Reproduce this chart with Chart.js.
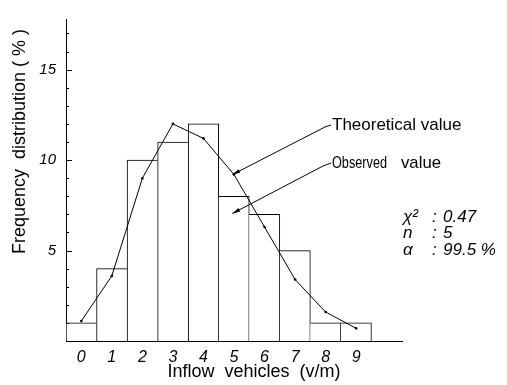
<!DOCTYPE html>
<html>
<head>
<meta charset="utf-8">
<script src="https://cdn.jsdelivr.net/npm/chart.js@4.4.0/dist/chart.umd.min.js"></script>
<style>
  html, body { margin: 0; padding: 0; background: #fff; }
</style>
</head>
<body>
<canvas id="freqChart" width="507" height="385"></canvas>
<script>
// inflow vehicles per minute, last slot is empty space on the axis
const categories = ["0", "1", "2", "3", "4", "5", "6", "7", "8", "9", ""];
const observed = [1, 4, 10, 11, 12, 8, 7, 5, 1, 1, null];
const theoretical = [1.1, 3.6, 9.0, 12.0, 11.2, 9.2, 6.3, 3.4, 1.6, 0.7, null];
const yLabels = [5, 10, 15];
const stats = [["χ²", "0.47"], ["n", "5"], ["α", "99.5 %"]];

const FONT = "'Liberation Sans', 'DejaVu Sans', sans-serif";
Chart.defaults.font.family = FONT;
Chart.defaults.color = "#000";

function arrow(ctx, pts) {
  ctx.beginPath();
  ctx.moveTo(pts[0][0], pts[0][1]);
  for (let i = 1; i < pts.length; i++) ctx.lineTo(pts[i][0], pts[i][1]);
  ctx.stroke();
  const [x1, y1] = pts[pts.length - 2];
  const [x2, y2] = pts[pts.length - 1];
  const a = Math.atan2(y2 - y1, x2 - x1);
  ctx.beginPath();
  ctx.moveTo(x2, y2);
  ctx.lineTo(x2 - 8 * Math.cos(a - 0.25), y2 - 8 * Math.sin(a - 0.25));
  ctx.lineTo(x2 - 8 * Math.cos(a + 0.25), y2 - 8 * Math.sin(a + 0.25));
  ctx.closePath();
  ctx.fill();
}

// draw each shared bar edge once, on the taller bar
function barBorder(c) {
  const i = c.dataIndex;
  const v = observed[i];
  const prev = i > 0 ? observed[i - 1] : null;
  const next = observed[i + 1];
  return {
    top: 1,
    bottom: 0,
    left: prev == null || prev < v ? 1 : 0,
    right: next == null || next <= v ? 1 : 0,
  };
}

const extras = {
  id: "extras",
  afterDraw(chart) {
    const { ctx } = chart;
    const x = chart.scales.x, y = chart.scales.y;
    ctx.save();
    ctx.strokeStyle = "#000";
    ctx.fillStyle = "#000";
    ctx.lineWidth = 1;

    // small inward ticks on the y axis
    for (let v = 1; v <= 17; v++) {
      const py = Math.round(y.getPixelForValue(v)) + 0.5;
      ctx.beginPath();
      ctx.moveTo(x.left, py);
      ctx.lineTo(x.left + (v % 5 === 0 ? 6 : 3), py);
      ctx.stroke();
    }

    // callouts
    arrow(ctx, [[331, 125], [325, 127], [x.getPixelForValue(4.95), y.getPixelForValue(9.2)]]);
    arrow(ctx, [[331, 163], [323, 166], [x.getPixelForValue(4.95), y.getPixelForValue(7.05)]]);
    ctx.font = "17px " + FONT;
    ctx.textBaseline = "middle";
    ctx.textAlign = "left";
    ctx.fillText("Theoretical value", 332, 125, 132);
    ctx.fillText("Observed", 332, 163, 55);
    ctx.fillText("value", 401, 163, 40);

    // test statistics
    ctx.font = "italic 17px " + FONT;
    const rows = [217, 233, 250];
    stats.forEach((s, i) => {
      ctx.fillText(s[0], 403, rows[i]);
      ctx.fillText(":", 432, rows[i]);
      ctx.fillText(s[1], 443, rows[i]);
    });
    ctx.restore();
  }
};

new Chart(document.getElementById("freqChart").getContext("2d"), {
  type: "bar",
  data: {
    labels: categories,
    datasets: [
      {
        type: "line",
        label: "Theoretical value",
        data: theoretical,
        borderColor: "#000",
        borderWidth: 1,
        pointRadius: 1.3,
        pointBackgroundColor: "#000",
        pointBorderWidth: 0,
        tension: 0,
        order: 0,
      },
      {
        label: "Observed value",
        data: observed,
        backgroundColor: "#fff",
        borderColor: "#000",
        borderWidth: barBorder,
        borderSkipped: "start",
        barPercentage: 1,
        categoryPercentage: 1,
        order: 1,
      },
    ],
  },
  options: {
    responsive: false,
    animation: false,
    layout: { padding: { left: 0, top: 7, right: 105, bottom: 0 } },
    plugins: {
      legend: { display: false },
      tooltip: { enabled: false },
    },
    scales: {
      x: {
        grid: { display: false, drawTicks: false },
        border: { display: true, color: "#000", width: 1 },
        ticks: { padding: 7, font: { size: 16, style: "italic" }, maxRotation: 0 },
        title: {
          display: true,
          text: "        Inflow  vehicles  (v/m)",
          font: { size: 18 },
          padding: { top: 0, bottom: 2.5 },
        },
        afterFit: s => { s.height = 44; },
      },
      y: {
        min: 0,
        max: 17.8,
        grid: { display: false, drawTicks: false },
        border: { display: true, color: "#000", width: 1 },
        ticks: { padding: 10, font: { size: 15, style: "italic" } },
        afterBuildTicks: s => { s.ticks = yLabels.map(v => ({ value: v })); },
        title: {
          display: true,
          text: "Frequency  distribution ( % )  ",
          align: "end",
          font: { size: 18 },
          padding: { top: 9, bottom: 0 },
        },
        afterFit: s => { s.width = 66; },
      },
    },
  },
  plugins: [extras],
});
</script>
</body>
</html>
